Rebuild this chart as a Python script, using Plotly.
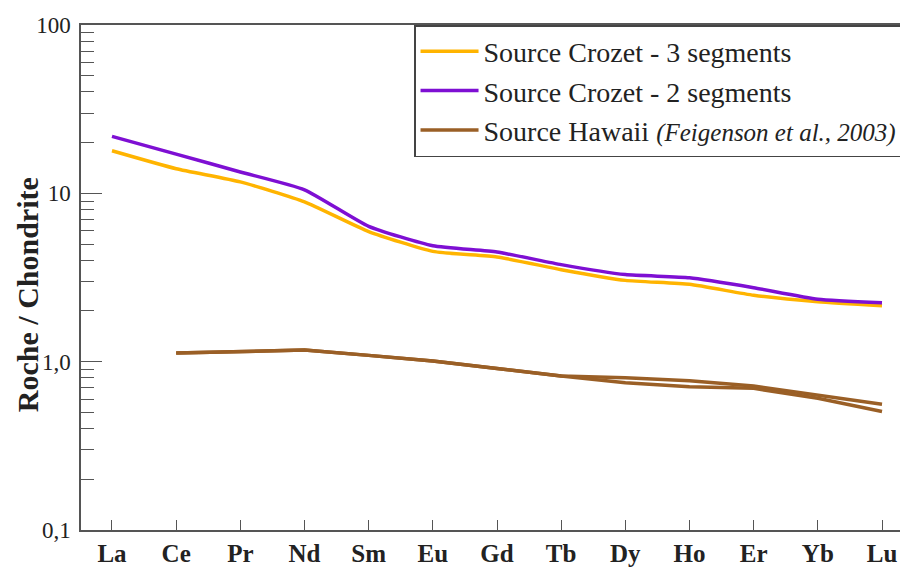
import plotly.graph_objects as go

elements = ["La", "Ce", "Pr", "Nd", "Sm", "Eu", "Gd", "Tb", "Dy", "Ho", "Er", "Yb", "Lu"]

crozet_3seg = [17.9, 14.0, 11.7, 8.9, 5.93, 4.52, 4.19, 3.52, 3.04, 2.88, 2.48, 2.27, 2.15]
crozet_2seg = [21.8, 17.1, 13.4, 10.5, 6.37, 4.88, 4.48, 3.77, 3.29, 3.15, 2.75, 2.35, 2.24]
hawaii_a = [None, 1.125, None, 1.172, 1.09, 1.01, 0.91, 0.821, 0.802, 0.770, 0.717, 0.634, 0.559]
hawaii_b = [None, 1.125, None, 1.172, 1.09, 1.01, 0.91, 0.821, 0.750, 0.710, 0.694, 0.606, 0.506]

y_tickvals = [0.1, 1, 10, 100]
y_ticktext = ["0,1", "1,0", "10", "100"]

ORANGE = "#FFB400"
PURPLE = "#7E0FD3"
BROWN = "#9A5F26"
SERIF = "Liberation Serif, Times New Roman, serif"

fig = go.Figure()
fig.add_trace(go.Scatter(x=elements, y=crozet_3seg, mode="lines",
                         line=dict(color=ORANGE, width=3.5, shape="spline", smoothing=0.5),
                         name="Source Crozet - 3 segments"))
fig.add_trace(go.Scatter(x=elements, y=crozet_2seg, mode="lines",
                         line=dict(color=PURPLE, width=3.5, shape="spline", smoothing=0.5),
                         name="Source Crozet - 2 segments"))
fig.add_trace(go.Scatter(x=elements, y=hawaii_a, mode="lines", connectgaps=True,
                         line=dict(color=BROWN, width=3.5),
                         name="Source Hawaii <i><span style='font-size:25px'>(Feigenson et al., 2003)</span></i>"))
fig.add_trace(go.Scatter(x=elements, y=hawaii_b, mode="lines", connectgaps=True,
                         line=dict(color=BROWN, width=3.5),
                         showlegend=False))

# page has an 8px body margin: figure is sized so it ends at the window edge
fig.update_layout(
    width=900, height=559,
    margin=dict(l=73, r=0, t=17, b=32),
    plot_bgcolor="white", paper_bgcolor="white",
    font=dict(family=SERIF, color="#222"),
    showlegend=True,
    legend=dict(x=0.4027, y=1.0, xanchor="left", yanchor="top",
                bgcolor="white", bordercolor="#444", borderwidth=1.5,
                font=dict(family=SERIF, size=28, color="#222"),
                itemwidth=58),
    xaxis=dict(
        type="category", range=[-0.483, 12.405],
        showline=True, linecolor="#555", linewidth=1.5, mirror=True,
        ticks="inside", ticklen=10, tickcolor="#555", tickwidth=1,
        tickfont=dict(family=SERIF, size=25, color="#222", weight="bold"),
        showgrid=False, zeroline=False,
    ),
    yaxis=dict(
        type="log", range=[-1, 2],
        showline=True, linecolor="#555", linewidth=1.5,
        ticks="inside", ticklen=21, tickcolor="#555", tickwidth=1.2,
        tickvals=y_tickvals, ticktext=y_ticktext,
        tickfont=dict(family=SERIF, size=23, color="#222"),
        ticklabelstandoff=4,
        minor=dict(ticks="inside", ticklen=13, tickcolor="#555", tickwidth=1, dtick="D1", showgrid=False),
        showgrid=False, zeroline=False,
    ),
)

fig.add_annotation(text="<b>Roche / Chondrite</b>", textangle=-90,
                   xref="paper", yref="paper", x=-0.0653, y=0.467,
                   xanchor="center", yanchor="middle", showarrow=False,
                   font=dict(family=SERIF, size=30, color="#222"))

fig.write_html("out.html")
